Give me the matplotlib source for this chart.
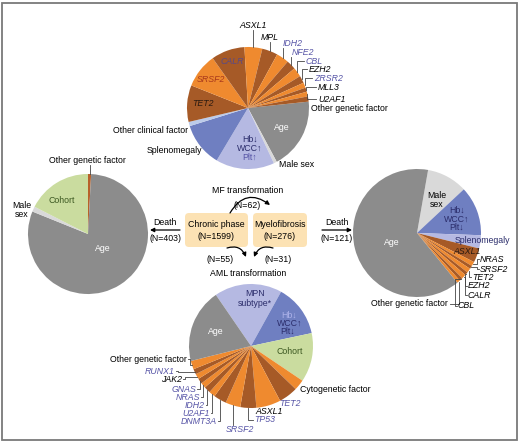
import matplotlib
matplotlib.use('Agg')
import matplotlib.pyplot as plt
from matplotlib.patches import FancyBboxPatch, FancyArrowPatch, Rectangle
import numpy as np

W, H = 520, 443
plt.rcParams['font.family'] = ['Liberation Sans', 'DejaVu Sans']
plt.rcParams['font.size'] = 6.3

# colours
AGE = '#8c8c8c'
MALE = '#d9d9d9'
LAV = '#b5b9e2'
BLUE = '#6f7fc1'
LBLUE = '#bccbea'
GREEN = '#cadc9f'
ORANGE = '#ef8a2f'
BROWN = '#a65a27'
BOX = '#fce2b4'
NAVY = '#2b2d6b'
PURPLE = '#5654a6'
DKGREEN = '#3b5720'
LINE = '#444444'

GENES = {'ASXL1', 'MPL', 'IDH2', 'NFE2', 'CBL', 'EZH2', 'ZRSR2', 'MLL3', 'U2AF1',
         'TET2', 'SRSF2', 'CALR', 'NRAS', 'TP53', 'DNMT3A', 'GNAS', 'JAK2', 'RUNX1'}

# ---- data (share of each pie, in degrees of arc)
top_names = ['Age', 'Male sex', 'Hb', 'Splenomegaly', 'Other clinical factor',
             'TET2', 'SRSF2', 'CALR', 'ASXL1', 'MPL', 'IDH2', 'NFE2', 'CBL',
             'EZH2', 'ZRSR2', 'MLL3', 'U2AF1', 'Other genetic factor']
top_vals = [68, 3, 56, 42, 4, 35, 33, 32, 17, 15, 12, 9, 9, 7, 5, 4, 4.5, 5]
top_cols = [AGE, MALE, LAV, BLUE, LBLUE, BROWN, ORANGE, BROWN, ORANGE, BROWN,
            ORANGE, BROWN, ORANGE, BROWN, ORANGE, BROWN, ORANGE, BROWN]

left_names = ['Other genetic factor', 'Age', 'Male sex', 'Cohort']
left_vals = [3, 289, 5, 63]
left_cols = ['#b8612a', AGE, MALE, GREEN]

right_names = ['Male sex', 'Hb', 'Splenomegaly', 'ASXL1', 'NRAS', 'SRSF2', 'TET2',
               'EZH2', 'CALR', 'CBL', 'Other genetic factor', 'Age']
right_vals = [37, 45, 12, 13, 4, 3, 4, 3, 4, 3, 3, 229]
right_cols = [MALE, BLUE, LAV, BROWN, ORANGE, BROWN, ORANGE, BROWN, ORANGE,
              BROWN, ORANGE, AGE]

bot_names = ['MPN subtype', 'Hb', 'Cohort', 'Cytogenetic factor', 'TET2', 'ASXL1',
             'TP53', 'SRSF2', 'DNMT3A', 'U2AF1', 'IDH2', 'NRAS', 'GNAS', 'JAK2',
             'RUNX1', 'Other genetic factor', 'Age']
bot_vals = [63.5, 49, 46, 10, 18, 23, 15, 14, 12, 6, 6, 5, 5, 5, 5, 8, 69.5]
bot_cols = [LAV, BLUE, GREEN, ORANGE, BROWN, ORANGE, BROWN, ORANGE, BROWN,
            ORANGE, BROWN, ORANGE, BROWN, ORANGE, BROWN, ORANGE, AGE]

n_chronic, n_mf = 1599, 276
n_mf_trans, n_aml_cp, n_aml_mf = 62, 55, 31
n_death_cp, n_death_mf = 403, 121

fig = plt.figure(figsize=(W / 100, H / 100), dpi=100)
ax = fig.add_axes([0, 0, 1, 1])


def Y(y):
    return H - y


def draw_pie(vals, cols, cx, cy, r, start):
    wedges, _ = ax.pie(vals, colors=cols, center=(cx, Y(cy)), radius=r,
                       startangle=start, counterclock=False,
                       wedgeprops=dict(linewidth=0))
    return wedges


def txt(x, y, s, ha='center', color='black', italic=False, **kw):
    ax.text(x, Y(y), s, ha=ha, va='center', color=color,
            fontstyle='italic' if italic else 'normal', **kw)


def leader(w, route, lx, ly, kx=None):
    a = np.radians((w.theta1 + w.theta2) / 2)
    ex = w.center[0] + w.r * np.cos(a)
    ey = H - (w.center[1] + w.r * np.sin(a))
    if route == 'v':
        pts = [(ex, ey), (ex, ly)]
    elif route == 'vh':
        pts = [(ex, ey), (ex, ly), (lx, ly)]
    else:
        pts = [(ex, ey), (kx, ey), (kx, ly), (lx, ly)]
    xs, ys = zip(*pts)
    ax.plot(xs, [Y(v) for v in ys], color=LINE, lw=0.6)


def labels(wedges, names, specs):
    # specs: name, text x, text y, ha, colour, route, line end x, line end y, knee x
    for name, tx, ty, ha, col, route, lx, ly, kx in specs:
        txt(tx, ty, name, ha=ha, color=col, italic=name in GENES)
        if route:
            leader(wedges[names.index(name)], route, lx, ly, kx)


# ---- top pie (myelofibrosis transformation)
wt = draw_pie(top_vals, top_cols, 248, 108, 61, 6)
labels(wt, top_names, [
    ('ASXL1', 253, 25, 'center', 'black', 'v', None, 30, None),
    ('MPL', 270, 37, 'center', 'black', 'v', None, 42, None),
    ('IDH2', 283, 43, 'left', PURPLE, 'v', None, 48, None),
    ('NFE2', 292, 52, 'left', PURPLE, 'v', None, 57, None),
    ('CBL', 306, 61, 'left', PURPLE, 'vh', 304, 61, None),
    ('EZH2', 309, 69, 'left', 'black', 'vh', 307, 69, None),
    ('ZRSR2', 314, 78, 'left', PURPLE, 'vh', 312, 78, None),
    ('MLL3', 318, 87, 'left', 'black', 'vh', 316, 87, None),
    ('U2AF1', 318, 99, 'left', 'black', 'vh', 316, 99, None),
    ('Other genetic factor', 311, 108, 'left', 'black', None, None, None, None),
    ('Male sex', 279, 164, 'left', 'black', None, None, None, None),
    ('Other clinical factor', 188, 130, 'right', 'black', None, None, None, None),
    ('Splenomegaly', 202, 150, 'right', 'black', None, None, None, None),
])
txt(282, 127, 'Age', color='white')
txt(250, 139, 'Hb↓', color=NAVY)
txt(250, 148, 'WCC↑', color=NAVY)
txt(250, 157, 'Plt↑', color=PURPLE)
txt(203, 103, 'TET2', color='#2a1a10', italic=True)
txt(211, 79, 'SRSF2', color='#a8381c', italic=True)
txt(232, 61, 'CALR', color='#5a4a86', italic=True)

# ---- left pie (death from chronic phase)
wl = draw_pie(left_vals, left_cols, 88, 234, 60, 90)
labels(wl, left_names, [
    ('Other genetic factor', 87, 160, 'center', 'black', 'v', None, 165, None),
])
txt(22, 210, 'Male\nsex', linespacing=1.1)
txt(62, 200, 'Cohort', color=DKGREEN)
txt(103, 248, 'Age', color='white')

# ---- right pie (death from myelofibrosis)
wr = draw_pie(right_vals, right_cols, 417, 233, 64, 80)
labels(wr, right_names, [
    ('Splenomegaly', 455, 240, 'left', NAVY, None, None, None, None),
    ('ASXL1', 453, 251, 'left', '#2a1a10', None, None, None, None),
    ('NRAS', 480, 259, 'left', 'black', 'hv', 479, 259, 477),
    ('SRSF2', 480, 269, 'left', 'black', 'hv', 479, 269, 477),
    ('TET2', 472, 277, 'left', 'black', 'hv', 471, 277, 469),
    ('EZH2', 468, 286, 'left', 'black', 'hv', 467, 286, 465),
    ('CALR', 468, 295, 'left', 'black', 'hv', 467, 295, 465),
    ('CBL', 458, 306, 'left', 'black', 'hv', 457, 306, 455),
    ('Other genetic factor', 448, 304, 'right', 'black', 'vh', 450, 304, None),
])
txt(437, 200, 'Male\nsex', linespacing=1.1)
txt(457, 210, 'Hb↓', color=NAVY)
txt(457, 219, 'WCC↑', color=NAVY)
txt(457, 227, 'Plt↓', color=NAVY)
txt(392, 242, 'Age', color='white')

# ---- bottom pie (AML transformation)
wb = draw_pie(bot_vals, bot_cols, 251, 346, 62, 124.5)
labels(wb, bot_names, [
    ('Cytogenetic factor', 300, 389, 'left', 'black', None, None, None, None),
    ('TET2', 290, 403, 'center', PURPLE, None, None, None, None),
    ('ASXL1', 269, 412, 'center', 'black', None, None, None, None),
    ('TP53', 254, 420, 'left', PURPLE, 'vh', 253, 420, None),
    ('SRSF2', 240, 430, 'center', PURPLE, 'v', None, 425, None),
    ('DNMT3A', 217, 421, 'right', PURPLE, 'vh', 218, 421, None),
    ('U2AF1', 210, 413, 'right', PURPLE, 'vh', 211, 413, None),
    ('IDH2', 205, 405, 'right', PURPLE, 'vh', 206, 405, None),
    ('NRAS', 200, 397, 'right', PURPLE, 'vh', 201, 397, None),
    ('GNAS', 196, 389, 'right', PURPLE, 'vh', 197, 389, None),
    ('JAK2', 182, 379, 'right', 'black', 'hv', 183, 379, 185),
    ('RUNX1', 175, 371, 'right', PURPLE, 'hv', 176, 371, 178),
    ('Other genetic factor', 187, 359, 'right', 'black', 'hv', 188, 359, 190),
])
txt(255, 294, 'MPN', color=NAVY)
txt(255, 304, 'subtype*', color=NAVY)
txt(289, 315, 'Hb↓', color='#aeb3ea')
txt(290, 323.5, 'WCC↑', color=NAVY)
txt(288, 331, 'Plt↓', color=NAVY)
txt(216, 331, 'Age', color='white')
txt(290, 351, 'Cohort', color=DKGREEN)

# ---- centre: phases and transitions
for x0, x1, name, n in [(185, 248, 'Chronic phase', n_chronic),
                        (253, 307, 'Myelofibrosis', n_mf)]:
    ax.add_patch(FancyBboxPatch((x0, Y(247)), x1 - x0, 34,
                                boxstyle='round,pad=0,rounding_size=4',
                                fc=BOX, ec='none'))
    txt((x0 + x1) / 2, 224, name)
    txt((x0 + x1) / 2, 236, f'(N={n})')

txt(248, 190, 'MF transformation')
txt(247, 205, f'(N={n_mf_trans})')
txt(220, 260, f'(N={n_aml_cp})')
txt(278, 260, f'(N={n_aml_mf})')
txt(248, 274, 'AML transformation')

arrows = [((230, 213), (270, 205), -0.55),
          ((227, 248), (246, 257), -0.45),
          ((273, 248), (254, 257), 0.45),
          ((180, 230), (150, 230), 0),
          ((322, 230), (352, 230), 0)]
for (x0, y0), (x1, y1), rad in arrows:
    ax.add_patch(FancyArrowPatch((x0, Y(y0)), (x1, Y(y1)),
                                 connectionstyle=f'arc3,rad={rad}',
                                 arrowstyle='-|>', mutation_scale=6,
                                 lw=0.9, color='black', shrinkA=0, shrinkB=0))

txt(165, 222, 'Death')
txt(166, 238, f'(N={n_death_cp})')
txt(337, 222, 'Death')
txt(337, 238, f'(N={n_death_mf})')

# outer frame
ax.add_patch(Rectangle((2, Y(440)), 515, 437, fill=False, ec='#7a7a7a', lw=1.3))

ax.set_xlim(0, W)
ax.set_ylim(0, H)
ax.set_aspect('auto')
ax.axis('off')

fig.savefig('out.png', dpi=100)
